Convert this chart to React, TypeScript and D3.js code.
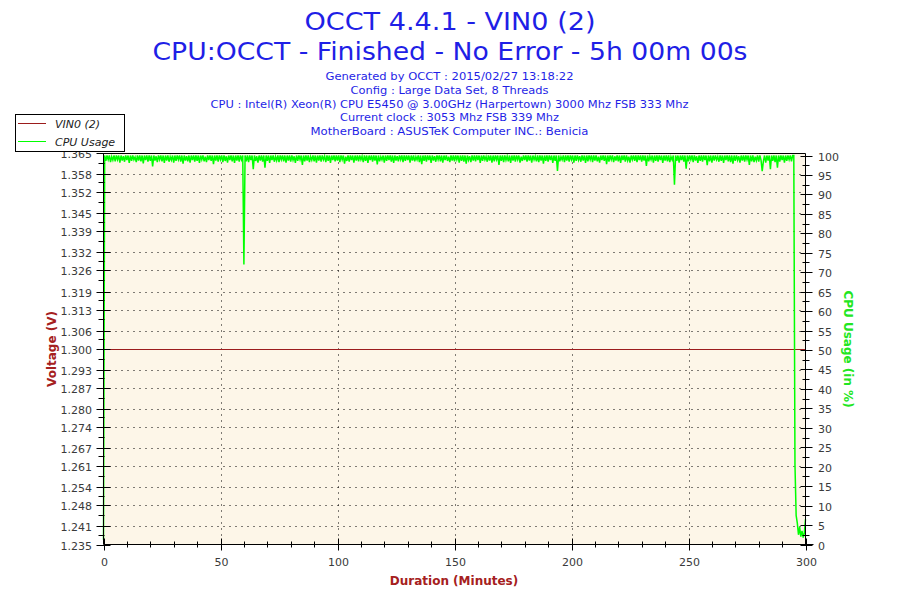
import React from "react";
import * as d3 from "d3";

const titleLines = ["OCCT 4.4.1 - VIN0 (2)", "CPU:OCCT - Finished - No Error - 5h 00m 00s"];
const infoLines = [
  "Generated by OCCT : 2015/02/27 13:18:22",
  "Config : Large Data Set, 8 Threads",
  "CPU : Intel(R) Xeon(R) CPU E5450 @ 3.00GHz (Harpertown) 3000 Mhz FSB 333 Mhz",
  "Current clock : 3053 Mhz FSB 339 Mhz",
  "MotherBoard : ASUSTeK Computer INC.: Benicia",
];
const infoWidths = [248, 198, 478, 219, 278];

const voltTicks = ["1.235", "1.241", "1.248", "1.254", "1.261", "1.267", "1.274", "1.280", "1.287", "1.293", "1.300", "1.306", "1.313", "1.319", "1.326", "1.332", "1.339", "1.345", "1.352", "1.358", "1.365"];
const cpuTicks = [0, 5, 10, 15, 20, 25, 30, 35, 40, 45, 50, 55, 60, 65, 70, 75, 80, 85, 90, 95, 100];
const xTicks = [0, 50, 100, 150, 200, 250, 300];

const voltTime = [0, 300];
const voltValue = [1.3, 1.3];

// CPU usage sampled every 0.5 minute
const cpuStep = 0.5;
const cpuValues = [
  1.2, 100, 98.6, 100, 98.9, 100, 98.3, 99.7, 98.8, 100, 98.5, 100, 98.9, 100, 98.2, 100, 98.7, 99.8, 98.4, 100,
  98.8, 100, 98.1, 100, 98.6, 100, 98.9, 99.6, 98.3, 100, 98.7, 100, 98.5, 100, 98.0, 100, 98.8, 100, 98.4, 100,
  98.6, 100, 97.2, 100, 98.7, 99.8, 98.3, 100, 98.9, 100, 98.5, 100, 98.1, 100, 98.7, 100, 98.4, 99.7, 98.8, 100,
  98.2, 100, 98.6, 100, 98.9, 100, 98.4, 100, 97.9, 100, 98.7, 99.8, 98.5, 100, 98.2, 100, 98.8, 100, 98.4, 100,
  98.6, 100, 98.1, 100, 98.9, 100, 98.5, 99.7, 98.3, 100, 98.8, 100, 98.6, 100, 97.8, 100, 98.7, 100, 98.4, 100,
  98.9, 100, 98.3, 100, 98.6, 99.8, 98.2, 100, 98.8, 100, 98.5, 100, 98.1, 100, 98.7, 100, 98.4, 100, 98.9, 100,
  72.0, 100, 98.5, 100, 98.3, 100, 98.8, 100, 96.5, 100, 98.6, 99.8, 98.2, 100, 98.7, 100, 98.4, 100, 96.9, 100,
  98.6, 100, 98.1, 100, 98.8, 100, 98.4, 99.7, 98.7, 100, 98.3, 100, 98.9, 100, 98.5, 100, 98.2, 100, 98.7, 100,
  98.4, 100, 98.8, 99.8, 98.1, 100, 98.6, 100, 98.9, 100, 97.6, 100, 98.5, 100, 98.7, 100, 98.3, 99.7, 98.8, 100,
  98.5, 100, 98.2, 100, 98.7, 100, 98.4, 100, 98.9, 99.8, 98.3, 100, 98.6, 100, 98.1, 100, 98.8, 100, 98.5, 100,
  98.7, 100, 98.3, 100, 98.9, 100, 97.9, 99.7, 98.6, 100, 98.4, 100, 98.8, 100, 98.2, 100, 98.7, 100, 98.5, 100,
  98.9, 99.8, 98.3, 100, 98.6, 100, 98.1, 100, 98.8, 100, 98.4, 100, 98.7, 100, 97.7, 100, 98.5, 99.7, 98.9, 100,
  98.2, 100, 98.6, 100, 98.8, 100, 98.4, 100, 98.1, 100, 98.7, 99.8, 98.5, 100, 98.9, 100, 98.3, 100, 98.6, 100,
  98.8, 100, 98.2, 100, 98.7, 100, 98.5, 99.7, 98.9, 100, 98.3, 100, 97.8, 100, 98.6, 100, 98.4, 100, 98.8, 100,
  98.1, 100, 98.7, 99.8, 98.4, 100, 98.9, 100, 98.5, 100, 98.2, 100, 98.8, 100, 98.6, 99.7, 98.3, 100, 98.7, 100,
  98.5, 100, 98.9, 100, 98.2, 100, 98.6, 100, 98.4, 100, 97.9, 100, 98.8, 99.8, 98.3, 100, 98.7, 100, 98.5, 100,
  98.8, 100, 98.1, 100, 98.6, 100, 98.9, 99.7, 98.4, 100, 98.7, 100, 98.2, 100, 98.5, 100, 98.9, 100, 97.6, 100,
  98.6, 100, 98.3, 100, 98.8, 99.8, 98.5, 100, 98.1, 100, 98.7, 100, 98.4, 100, 98.9, 100, 98.2, 99.7, 98.6, 100,
  98.8, 100, 98.4, 100, 98.7, 100, 98.2, 100, 98.9, 99.8, 98.5, 100, 98.3, 100, 98.7, 100, 97.9, 100, 98.6, 100,
  98.4, 100, 98.8, 100, 98.1, 100, 98.6, 100, 96.0, 100, 98.5, 99.7, 98.9, 100, 98.3, 100, 98.7, 100, 98.4, 100,
  98.9, 100, 98.2, 100, 98.6, 100, 98.8, 99.8, 98.4, 100, 98.7, 100, 98.1, 100, 98.5, 100, 98.9, 100, 98.3, 100,
  98.7, 100, 98.5, 99.7, 98.2, 100, 98.8, 100, 98.6, 100, 97.8, 100, 98.4, 100, 98.9, 100, 98.3, 99.8, 98.7, 100,
  98.5, 100, 98.1, 100, 98.8, 100, 98.4, 100, 98.7, 99.7, 98.2, 100, 98.9, 100, 98.6, 100, 98.3, 100, 98.8, 100,
  98.4, 100, 98.7, 100, 97.3, 100, 98.5, 99.8, 98.9, 100, 98.2, 100, 98.6, 100, 98.4, 100, 98.8, 100, 98.1, 100,
  98.7, 100, 98.5, 100, 98.3, 99.7, 98.9, 100, 92.5, 100, 98.6, 100, 98.2, 100, 98.8, 100, 98.4, 100, 96.6, 100,
  98.5, 100, 98.9, 100, 98.3, 100, 98.7, 99.8, 98.1, 100, 98.6, 100, 98.4, 100, 98.8, 100, 97.5, 100, 98.5, 100,
  98.2, 100, 98.7, 100, 98.9, 99.7, 98.4, 100, 98.6, 100, 98.1, 100, 98.8, 100, 98.5, 100, 98.3, 100, 97.9, 100,
  98.6, 100, 98.8, 99.8, 98.2, 100, 98.7, 100, 98.4, 100, 98.9, 100, 97.6, 100, 98.5, 100, 98.3, 99.7, 98.7, 100,
  98.4, 100, 98.8, 96.0, 98.5, 100, 98.2, 100, 98.7, 100, 96.5, 100, 98.6, 100, 98.3, 100, 96.9, 100, 98.4, 100,
  98.8, 100, 98.2, 100, 98.6, 100, 98.9, 100, 98.5, 100, 100, 20.5, 7.5, 5.5, 2.5, 4.5, 2.0, 3.5, 1.8, 3.0,
  6.5,
];

const W = 900;
const H = 600;
const left = 103.5;
const right = 805.5;
const top = 153.5;
const bottom = 544.5;

const font = "'DejaVu Sans', Verdana, sans-serif";
const titleColor = "#1f1fe6";
const axisTitleColor = "#a52020";
const voltColor = "#9b1c1c";
const cpuColor = "#00ff00";
const tickColor = "#3a3a3a";

export default function App() {
  const x = d3.scaleLinear().domain([0, 300]).range([left, right]);
  const yV = d3.scaleLinear().domain([1.235, 1.365]).range([bottom, 153]);
  const yC = d3.scaleLinear().domain([0, 100]).range([bottom, 155.5]);
  const r = (v: number) => Math.round(v) + 0.5;

  const cpuLine = d3
    .line<number>()
    .x((_, i) => x(i * cpuStep))
    .y((d) => yC(d));
  const voltLine = d3
    .line<number>()
    .x((_, i) => x(voltTime[i]))
    .y((d) => r(yV(d)));

  const voltMinor = d3.range(voltTicks.length - 1).map((i) => (+voltTicks[0] + (i + 0.5) * 0.0065));
  const cpuMinor = d3.range(cpuTicks.length - 1).map((i) => cpuTicks[i] + 2.5);
  const xMinor = d3.range(0, 301, 10).filter((v) => v % 50 !== 0);

  return (
    <svg
      width={W}
      height={H}
      style={{ position: "absolute", left: 0, top: 0, background: "#fff" }}
      fontFamily={font}
    >
      <rect x={0} y={0} width={W} height={H} fill="#fff" />
      {/* Titles */}
      <text x={450} y={30} textAnchor="middle" fontSize={25} fill={titleColor} textLength={291} lengthAdjust="spacingAndGlyphs">
        {titleLines[0]}
      </text>
      <text x={450} y={60} textAnchor="middle" fontSize={25} fill={titleColor} textLength={595} lengthAdjust="spacingAndGlyphs">
        {titleLines[1]}
      </text>
      {infoLines.map((t, i) => (
        <text
          key={t}
          x={449.5}
          y={80 + i * 13.8}
          textAnchor="middle"
          fontSize={11}
          fill={titleColor}
          textLength={infoWidths[i]}
          lengthAdjust="spacingAndGlyphs"
        >
          {t}
        </text>
      ))}

      {/* Plot background */}
      <rect x={left} y={top} width={right - left} height={bottom - top} fill="#fdf6e8" />

      {/* Grid */}
      {voltTicks.slice(1, -1).map((t) => (
        <line key={"hg" + t} x1={left + 6} x2={right} y1={r(yV(+t))} y2={r(yV(+t))} stroke="#000" strokeDasharray="1,5" />
      ))}
      {xTicks.slice(1, -1).map((t) => (
        <line key={"vg" + t} x1={r(x(t))} x2={r(x(t))} y1={top + 3} y2={bottom} stroke="#000" strokeDasharray="1,5" />
      ))}

      {/* Series */}
      <path d={voltLine(voltValue) || ""} fill="none" stroke={voltColor} strokeWidth={1} />
      <path d={cpuLine(cpuValues) || ""} fill="none" stroke={cpuColor} strokeWidth={1.5} />

      {/* Frame / axes */}
      <line x1={left} x2={right} y1={top} y2={top} stroke="#000" />
      <line x1={left} x2={left} y1={top} y2={bottom} stroke="#000" />
      <line x1={right} x2={right} y1={top} y2={bottom} stroke="#000" />
      <line x1={left} x2={right + 8} y1={bottom} y2={bottom} stroke="#000" />

      {/* Left axis ticks */}
      {voltTicks.map((t) => {
        const yy = r(yV(+t));
        return (
          <g key={"lt" + t}>
            <line x1={left - 7} x2={left + 7} y1={yy} y2={yy} stroke="#000" />
            <text x={92} y={yy + 4} textAnchor="end" fontSize={11} fill={tickColor}>
              {t}
            </text>
          </g>
        );
      })}
      {voltMinor.map((v, i) => (
        <line key={"lm" + i} x1={left - 5} x2={left + 1} y1={r(yV(v))} y2={r(yV(v))} stroke="#000" />
      ))}

      {/* Right axis ticks */}
      {cpuTicks.map((t) => {
        const yy = r(yC(t));
        return (
          <g key={"rt" + t}>
            <line x1={right - 5} x2={right + 7} y1={yy} y2={yy} stroke="#000" />
            <text x={818} y={yy + 4} textAnchor="start" fontSize={11} fill={tickColor}>
              {t}
            </text>
          </g>
        );
      })}
      {cpuMinor.map((v, i) => (
        <line key={"rm" + i} x1={right - 3} x2={right + 4} y1={r(yC(v))} y2={r(yC(v))} stroke="#000" />
      ))}

      {/* Bottom axis ticks */}
      {xTicks.map((t) => {
        const xx = r(x(t));
        return (
          <g key={"bt" + t}>
            <line x1={xx} x2={xx} y1={bottom - 6} y2={bottom + 6} stroke="#000" />
            <text x={xx} y={566} textAnchor="middle" fontSize={11} fill={tickColor}>
              {t}
            </text>
          </g>
        );
      })}
      {xMinor.map((v) => (
        <line key={"bm" + v} x1={r(x(v))} x2={r(x(v))} y1={bottom - 3} y2={bottom + 3} stroke="#000" />
      ))}

      {/* Axis titles */}
      <text x={454} y={585} textAnchor="middle" fontSize={12} fontWeight="bold" fill={axisTitleColor}>
        Duration (Minutes)
      </text>
      <text
        transform={`translate(56,349) rotate(-90)`}
        textAnchor="middle"
        fontSize={12}
        fontWeight="bold"
        fill={axisTitleColor}
      >
        Voltage (V)
      </text>
      <text
        transform={`translate(844,349) rotate(90)`}
        textAnchor="middle"
        fontSize={12}
        fontWeight="bold"
        fill="#22e622"
      >
        CPU Usage (in %)
      </text>

      {/* Legend */}
      <rect x={15.5} y={114.5} width={109} height={37} fill="#fff" stroke="#000" />
      <line x1={18} x2={46} y1={123.5} y2={123.5} stroke={voltColor} />
      <text x={55} y={127.5} fontSize={11} fontStyle="italic" fill="#222">
        VIN0 (2)
      </text>
      <line x1={18} x2={46} y1={141.5} y2={141.5} stroke={cpuColor} />
      <text x={55} y={145.5} fontSize={11} fontStyle="italic" fill="#222">
        CPU Usage
      </text>
    </svg>
  );
}
